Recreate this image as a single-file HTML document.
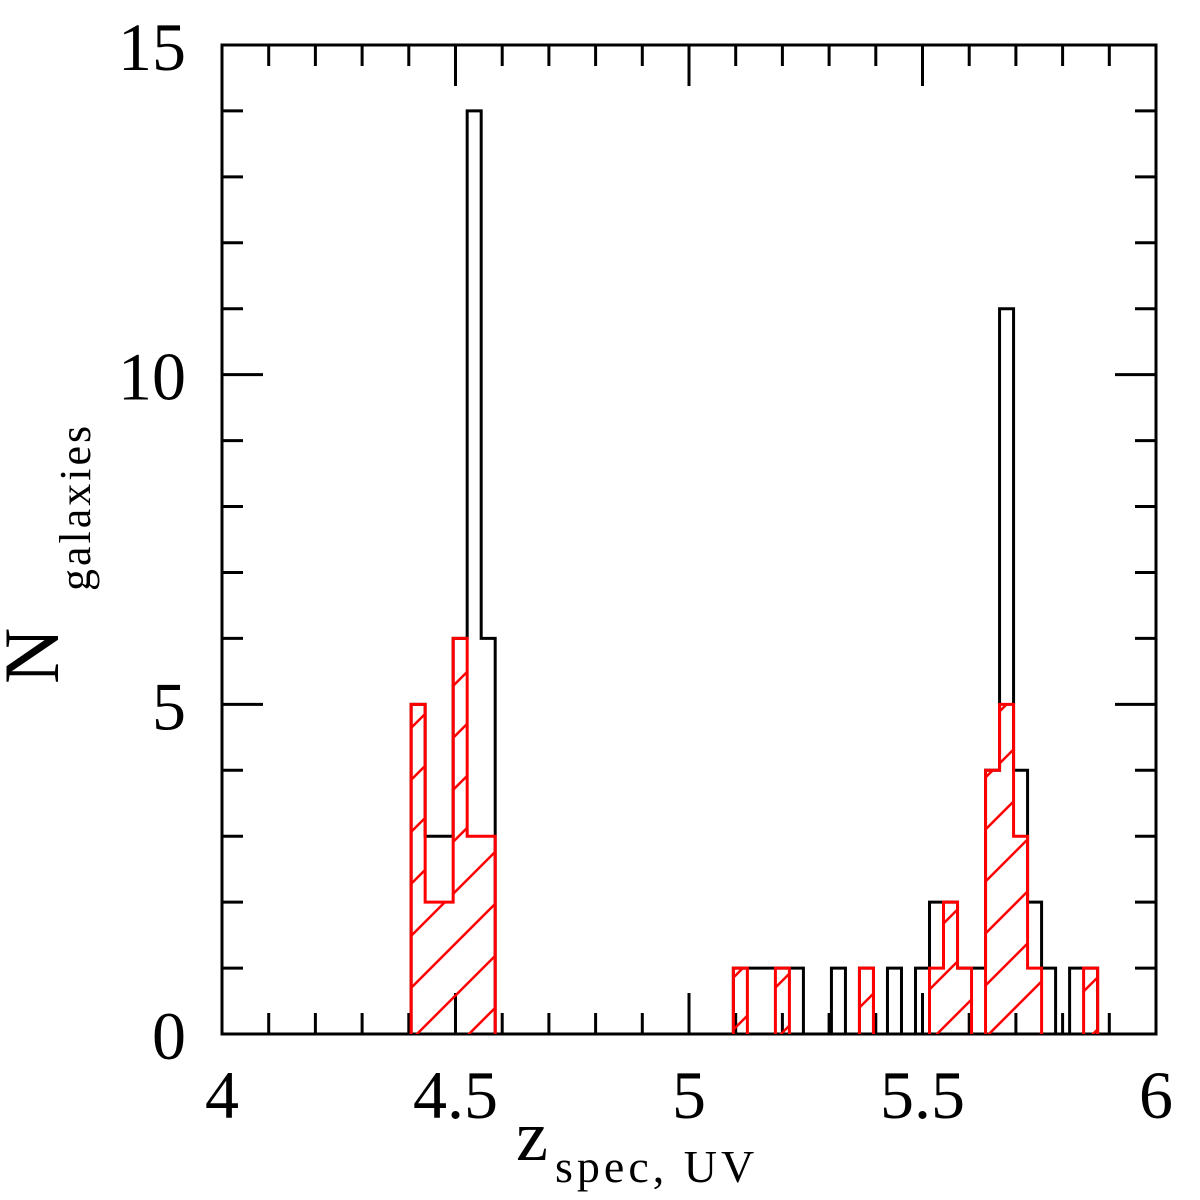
<!DOCTYPE html>
<html><head><meta charset="utf-8"><style>
html,body{margin:0;padding:0;background:#fff;}
svg{display:block;}
text{font-family:"Liberation Serif",serif;}
</style></head><body>
<svg id="chart" width="1200" height="1200" viewBox="0 0 1200 1200" xmlns="http://www.w3.org/2000/svg" style="position:absolute;left:0;top:0">
<defs>
<pattern id="hatch" patternUnits="userSpaceOnUse" width="52" height="52" x="411" y="0">
<path d="M0,52 L52,0 M-13,13 L13,-13 M39,65 L65,39" stroke="#ff0000" stroke-width="2.5"/>
</pattern>
<clipPath id="redclip"><path id="redclippath" d=""/></clipPath>
</defs>
<g id="axes"></g>
<g id="marks"></g>
<g id="labels"></g>
<text x="516" y="1160" font-size="72">z<tspan x="555" y="1182" font-size="46" letter-spacing="4">spec, UV</tspan></text>
<text transform="translate(58,684) rotate(-90)" font-size="78">N<tspan x="93" y="32" font-size="44" letter-spacing="3">galaxies</tspan></text>
</svg>
<script>
// data
const binStart = 4.405;
const binWidth = 0.03;
const blackCounts = [5,3,3,6,14,6,0,0,0,0,0,0,0,0,0,0,0,0,0,0,0,0,0,1,1,1,1,1,0,0,1,0,1,0,1,0,1,2,2,1,1,4,11,4,2,1,0,1,1];
const redCounts   = [5,2,2,6,3,3,0,0,0,0,0,0,0,0,0,0,0,0,0,0,0,0,0,1,0,0,1,0,0,0,0,0,1,0,0,0,0,1,2,1,0,4,5,3,1,0,0,0,1];
const xTicks = [4,4.5,5,5.5,6];
const xTickLabels = ["4","4.5","5","5.5","6"];
const yTicks = [0,5,10,15];
const yTickLabels = ["0","5","10","15"];

const X0=222,X1=1156,Y0=1034,Y1=45;
const xMin=4,xMax=6,yMin=0,yMax=15;
const sx=v=>X0+(v-xMin)/(xMax-xMin)*(X1-X0);
const sy=v=>Y0-(v-yMin)/(yMax-yMin)*(Y0-Y1);
const NS="http://www.w3.org/2000/svg";
function mk(tag,attrs,parent){const e=document.createElementNS(NS,tag);for(const k in attrs)e.setAttribute(k,attrs[k]);parent.appendChild(e);return e;}
const axes=document.getElementById('axes'),marks=document.getElementById('marks'),labels=document.getElementById('labels');

function stepPath(counts){
  let d='';let prev=0;
  for(let i=0;i<counts.length;i++){
    const c=counts[i];const xa=sx(binStart+i*binWidth),xb=sx(binStart+(i+1)*binWidth);
    if(c===0){prev=0;continue;}
    if(prev===0) d+=`M${xa},${sy(0)} `;
    d+=`L${xa},${sy(c)} L${xb},${sy(c)} `;
    if(i+1>=counts.length||counts[i+1]===0) d+=`L${xb},${sy(0)} `;
    prev=c;
  }
  return d;
}
const bp=stepPath(blackCounts), rp=stepPath(redCounts);
const bpath=mk('path',{d:bp,fill:'none',stroke:'#000','stroke-width':3},marks);


document.getElementById('redclippath').setAttribute('d',rp);
const hatch=mk('rect',{x:X0,y:Y1,width:X1-X0,height:Y0-Y1,fill:'url(#hatch)','clip-path':'url(#redclip)'},marks);


const rpath=mk('path',{d:rp,fill:'none',stroke:'#ff0000','stroke-width':3},marks);



const frame=mk('rect',{x:X0,y:Y1,width:X1-X0,height:Y0-Y1,fill:'none',stroke:'#000','stroke-width':3},axes);


for(let v=4;v<=6.0001;v+=0.1){
  const major=Math.abs(v*2-Math.round(v*2))<1e-6;const L=major?41:21;const x=sx(v);
  mk('line',{x1:x,y1:Y0,x2:x,y2:Y0-L,stroke:'#000','stroke-width':3},axes);
  mk('line',{x1:x,y1:Y1,x2:x,y2:Y1+L,stroke:'#000','stroke-width':3},axes);
}
for(let v=0;v<=15;v++){
  const L=(v%5===0)?41:21;const y=sy(v);
  mk('line',{x1:X0,y1:y,x2:X0+L,y2:y,stroke:'#000','stroke-width':3},axes);
  mk('line',{x1:X1,y1:y,x2:X1-L,y2:y,stroke:'#000','stroke-width':3},axes);
}
xTicks.forEach((v,i)=>{
  const t=mk('text',{x:sx(v),y:1118,'text-anchor':'middle','font-size':68},labels);
  t.textContent=xTickLabels[i];
  
  
});
yTicks.forEach((v,i)=>{
  const t=mk('text',{x:186,y:sy(v)+25,'text-anchor':'end','font-size':68},labels);
  t.textContent=yTickLabels[i];
  
  
});
</script>
</body></html>
